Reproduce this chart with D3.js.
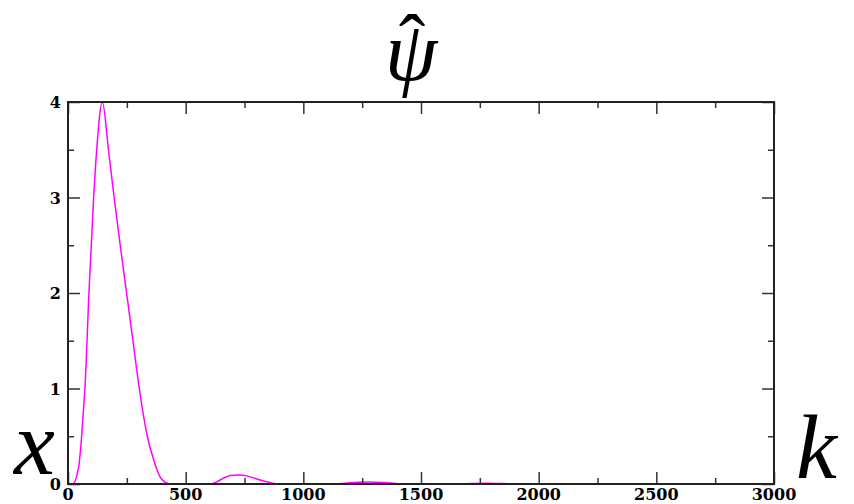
<!DOCTYPE html>
<html lang="en">
<head>
<meta charset="utf-8">
<title>psi hat spectrum</title>
<script src="https://cdn.jsdelivr.net/npm/d3@7"></script>
<style>
  body { margin: 0; background: #fff; }
</style>
</head>
<body>
<script>
// values
var kValues = [0, 20, 44, 58, 65, 72, 89, 109, 122, 146, 172, 196, 222, 249, 276, 303, 337, 367, 395, 433,
               600, 630, 660, 690, 724, 760, 800, 850, 900,
               1135, 1180, 1230, 1283, 1340, 1390, 1420,
               1650, 1720, 1780, 1850, 1900, 3000];
var psiValues = [0, 0, 0.16, 0.5, 0.75, 1.0, 2.0, 3.0, 3.5, 4.0, 3.5, 3.0, 2.5, 2.0, 1.5, 1.0, 0.5, 0.23, 0.06, 0,
                 0, 0.02, 0.06, 0.09, 0.095, 0.085, 0.055, 0.02, 0,
                 0, 0.008, 0.018, 0.022, 0.016, 0.005, 0,
                 0, 0.006, 0.008, 0.004, 0, 0];
var xMajor = [0, 500, 1000, 1500, 2000, 2500, 3000];
var xMinor = [250, 750, 1250, 1750, 2250, 2750];
var yMajor = [0, 1, 2, 3, 4];
var yMinor = [0.5, 1.5, 2.5, 3.5];

var w = 854, h = 504;
var pLeft = 68, pRight = 774, pTop = 102, pBottom = 484;

var svg = d3.select("body").append("svg")
  .attr("width", w)
  .attr("height", h);

var x = d3.scaleLinear().domain([0, 3000]).range([pLeft, pRight]);
var y = d3.scaleLinear().domain([0, 4]).range([pBottom, pTop]);

var data = kValues.map(function(k, i) { return [k, psiValues[i]]; });

// curve
var line = d3.line()
  .x(function(d) { return x(d[0]); })
  .y(function(d) { return y(d[1]); })
  .curve(d3.curveMonotoneX);

svg.append("path")
  .datum(data)
  .attr("d", line)
  .attr("fill", "none")
  .attr("stroke", "#ff00ff")
  .attr("stroke-width", 1.5);

// ticks, all pointing inward
function tickAxis(axis, tickVals, size) {
  return axis.tickValues(tickVals).tickSize(size).tickFormat("");
}
var majorLen = -12, minorLen = -6;

svg.append("g").attr("transform", "translate(0," + pBottom + ")")
  .call(tickAxis(d3.axisBottom(x), xMajor, majorLen));
svg.append("g").attr("transform", "translate(0," + pBottom + ")")
  .call(tickAxis(d3.axisBottom(x), xMinor, minorLen));
svg.append("g").attr("transform", "translate(0," + pTop + ")")
  .call(tickAxis(d3.axisTop(x), xMajor, majorLen));
svg.append("g").attr("transform", "translate(0," + pTop + ")")
  .call(tickAxis(d3.axisTop(x), xMinor, minorLen));
svg.append("g").attr("transform", "translate(" + pLeft + ",0)")
  .call(tickAxis(d3.axisLeft(y), yMajor, majorLen));
svg.append("g").attr("transform", "translate(" + pLeft + ",0)")
  .call(tickAxis(d3.axisLeft(y), yMinor, minorLen));
svg.append("g").attr("transform", "translate(" + pRight + ",0)")
  .call(tickAxis(d3.axisRight(y), yMajor, majorLen));
svg.append("g").attr("transform", "translate(" + pRight + ",0)")
  .call(tickAxis(d3.axisRight(y), yMinor, minorLen));

svg.selectAll(".domain").remove();
svg.selectAll(".tick line").attr("stroke", "#333").attr("stroke-width", 1.5);

// frame
svg.append("rect")
  .attr("x", pLeft).attr("y", pTop)
  .attr("width", pRight - pLeft).attr("height", pBottom - pTop)
  .attr("fill", "none")
  .attr("stroke", "#222")
  .attr("stroke-width", 2);

// tick labels
svg.selectAll("text.xl")
  .data(xMajor)
  .enter().append("text")
  .attr("class", "xl")
  .attr("x", function(d) { return x(d); })
  .attr("y", 500)
  .attr("text-anchor", "middle")
  .attr("font-family", "DejaVu Serif")
  .attr("font-weight", "bold")
  .attr("font-size", "16px")
  .text(function(d) { return d; });

svg.selectAll("text.yl")
  .data(yMajor)
  .enter().append("text")
  .attr("class", "yl")
  .attr("x", 61)
  .attr("y", function(d) { return y(d) + 6; })
  .attr("text-anchor", "end")
  .attr("font-family", "DejaVu Serif")
  .attr("font-weight", "bold")
  .attr("font-size", "16px")
  .text(function(d) { return d; });

// titles
svg.append("text")
  .attr("x", 411).attr("y", 80)
  .attr("text-anchor", "middle")
  .attr("font-family", "Liberation Serif")
  .attr("font-style", "italic")
  .attr("font-size", "84px")
  .text("ψ");
svg.append("text")
  .attr("x", 412).attr("y", 70)
  .attr("text-anchor", "middle")
  .attr("font-family", "Liberation Serif")
  .attr("font-size", "80px")
  .text("ˆ");

svg.append("text")
  .attr("x", 14).attr("y", 474)
  .attr("font-family", "Liberation Serif")
  .attr("font-style", "italic")
  .attr("font-size", "92px")
  .text("x");

svg.append("text")
  .attr("x", 796).attr("y", 478)
  .attr("font-family", "Liberation Serif")
  .attr("font-style", "italic")
  .attr("font-size", "92px")
  .text("k");
</script>
</body>
</html>
